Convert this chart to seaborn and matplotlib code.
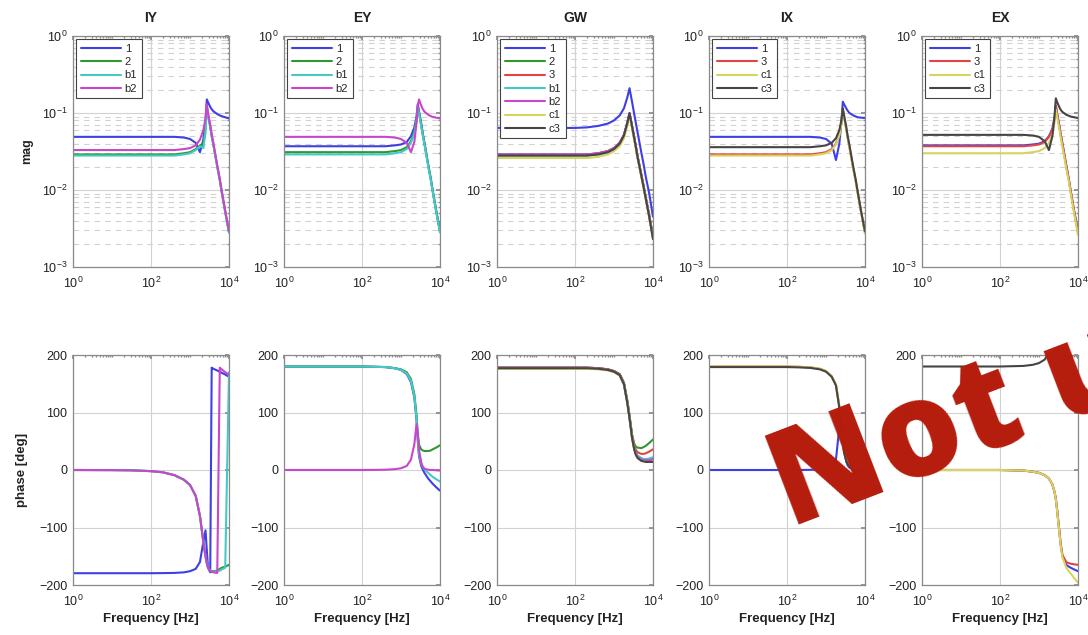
import numpy as np
import matplotlib
matplotlib.use("Agg")
import matplotlib.pyplot as plt
import seaborn as sns
from matplotlib.ticker import LogLocator, NullFormatter, FixedLocator

# ---------------- data ----------------
FREQ = [1, 10, 30, 100, 200, 400, 700, 1000, 1400, 1800, 2200, 2500, 2700, 2900,
        3300, 3600, 4000, 5000, 5800, 6500, 8000, 10000]

PANELS = ["IY", "EY", "GW", "IX", "EX"]

IY_LABELS = ["1", "2", "b1", "b2"]
EY_LABELS = ["1", "2", "b1", "b2"]
GW_LABELS = ["1", "2", "3", "b1", "b2", "c1", "c3"]
IX_LABELS = ["1", "3", "c1", "c3"]
EX_LABELS = ["1", "3", "c1", "c3"]

IY_MAG = {
    "1":  [0.049, 0.049, 0.049, 0.049, 0.049, 0.049, 0.048, 0.046, 0.041, 0.031, 0.045, 0.080, 0.150, 0.138, 0.120, 0.112, 0.105, 0.097, 0.093, 0.091, 0.088, 0.085],
    "2":  [0.029, 0.029, 0.029, 0.029, 0.029, 0.029, 0.030, 0.031, 0.034, 0.038, 0.040, 0.062, 0.120, 0.095, 0.066, 0.050, 0.038, 0.020, 0.0135, 0.0094, 0.0052, 0.0028],
    "b1": [0.028, 0.028, 0.028, 0.028, 0.028, 0.028, 0.029, 0.030, 0.033, 0.037, 0.035, 0.056, 0.120, 0.095, 0.066, 0.050, 0.038, 0.020, 0.0135, 0.0094, 0.0052, 0.0028],
    "b2": [0.033, 0.033, 0.033, 0.033, 0.033, 0.033, 0.034, 0.035, 0.038, 0.045, 0.060, 0.085, 0.130, 0.100, 0.070, 0.053, 0.040, 0.021, 0.014, 0.0098, 0.0054, 0.0029],
}
EY_MAG = {
    "1":  [0.037, 0.037, 0.037, 0.037, 0.037, 0.037, 0.038, 0.039, 0.042, 0.050, 0.065, 0.090, 0.130, 0.105, 0.073, 0.055, 0.041, 0.021, 0.014, 0.0098, 0.0054, 0.0029],
    "2":  [0.031, 0.031, 0.031, 0.031, 0.031, 0.031, 0.032, 0.033, 0.036, 0.043, 0.057, 0.082, 0.120, 0.100, 0.070, 0.053, 0.040, 0.021, 0.014, 0.0097, 0.0053, 0.0029],
    "b1": [0.029, 0.029, 0.029, 0.029, 0.029, 0.029, 0.030, 0.031, 0.034, 0.041, 0.054, 0.078, 0.115, 0.098, 0.068, 0.052, 0.039, 0.020, 0.0135, 0.0095, 0.0052, 0.0028],
    "b2": [0.049, 0.049, 0.049, 0.049, 0.049, 0.049, 0.048, 0.046, 0.041, 0.031, 0.042, 0.075, 0.125, 0.150, 0.125, 0.113, 0.104, 0.095, 0.091, 0.089, 0.087, 0.085],
}
GW_MAG = {
    "1":  [0.064, 0.064, 0.064, 0.064, 0.065, 0.068, 0.073, 0.080, 0.093, 0.115, 0.160, 0.210, 0.170, 0.140, 0.097, 0.076, 0.057, 0.031, 0.021, 0.015, 0.009, 0.0045],
    "2":  [0.029, 0.029, 0.029, 0.029, 0.029, 0.030, 0.032, 0.035, 0.041, 0.052, 0.075, 0.100, 0.082, 0.068, 0.048, 0.038, 0.028, 0.016, 0.011, 0.0081, 0.0047, 0.0025],
    "3":  [0.0285, 0.0285, 0.0285, 0.0285, 0.0287, 0.030, 0.032, 0.035, 0.041, 0.052, 0.074, 0.098, 0.080, 0.066, 0.047, 0.037, 0.027, 0.0155, 0.0107, 0.0079, 0.0046, 0.0024],
    "b1": [0.028, 0.028, 0.028, 0.028, 0.028, 0.029, 0.031, 0.034, 0.040, 0.051, 0.073, 0.097, 0.080, 0.066, 0.047, 0.037, 0.027, 0.0155, 0.0107, 0.0079, 0.0046, 0.0024],
    "b2": [0.029, 0.029, 0.029, 0.029, 0.029, 0.030, 0.032, 0.035, 0.041, 0.052, 0.075, 0.100, 0.082, 0.068, 0.048, 0.038, 0.028, 0.016, 0.011, 0.0081, 0.0047, 0.0025],
    "c1": [0.026, 0.026, 0.026, 0.026, 0.026, 0.027, 0.029, 0.032, 0.037, 0.047, 0.068, 0.092, 0.076, 0.063, 0.044, 0.035, 0.026, 0.015, 0.0103, 0.0076, 0.0044, 0.0023],
    "c3": [0.028, 0.028, 0.028, 0.028, 0.028, 0.029, 0.031, 0.034, 0.040, 0.051, 0.074, 0.099, 0.081, 0.067, 0.047, 0.037, 0.027, 0.0155, 0.0106, 0.0078, 0.0045, 0.0023],
}
IX_MAG = {
    "1":  [0.049, 0.049, 0.049, 0.049, 0.049, 0.049, 0.048, 0.046, 0.040, 0.0245, 0.040, 0.080, 0.140, 0.130, 0.115, 0.107, 0.100, 0.093, 0.090, 0.088, 0.087, 0.086],
    "3":  [0.029, 0.029, 0.029, 0.029, 0.029, 0.029, 0.030, 0.031, 0.034, 0.040, 0.052, 0.075, 0.110, 0.090, 0.063, 0.048, 0.036, 0.019, 0.013, 0.0092, 0.0051, 0.0028],
    "c1": [0.028, 0.028, 0.028, 0.028, 0.028, 0.028, 0.029, 0.030, 0.033, 0.039, 0.051, 0.074, 0.108, 0.089, 0.062, 0.047, 0.035, 0.0185, 0.0127, 0.009, 0.005, 0.0027],
    "c3": [0.036, 0.036, 0.036, 0.036, 0.036, 0.036, 0.037, 0.038, 0.041, 0.047, 0.060, 0.082, 0.115, 0.094, 0.066, 0.050, 0.038, 0.020, 0.0135, 0.0095, 0.0052, 0.0029],
}
EX_MAG = {
    "1":  [0.038, 0.038, 0.038, 0.038, 0.038, 0.038, 0.039, 0.040, 0.043, 0.050, 0.062, 0.085, 0.125, 0.100, 0.070, 0.053, 0.040, 0.021, 0.014, 0.0097, 0.0053, 0.0029],
    "3":  [0.037, 0.037, 0.037, 0.037, 0.037, 0.037, 0.038, 0.039, 0.042, 0.049, 0.061, 0.084, 0.123, 0.099, 0.069, 0.052, 0.039, 0.0205, 0.0138, 0.0096, 0.0052, 0.0028],
    "c1": [0.030, 0.030, 0.030, 0.030, 0.030, 0.030, 0.031, 0.032, 0.035, 0.041, 0.052, 0.075, 0.110, 0.090, 0.063, 0.048, 0.036, 0.019, 0.013, 0.009, 0.0049, 0.0026],
    "c3": [0.052, 0.052, 0.052, 0.052, 0.052, 0.052, 0.051, 0.049, 0.043, 0.033, 0.050, 0.090, 0.155, 0.140, 0.120, 0.110, 0.103, 0.095, 0.092, 0.090, 0.088, 0.086],
}

IY_PH = {
    "1":  [-179.5, -179.5, -179.5, -179.5, -179.3, -179, -178, -176, -172, -160, -125, -105, -140, -170, -178, 178, 176, 173, 171, 169, 166, 162],
    "2":  [0, -0.2, -0.5, -2, -4, -9, -17, -26, -45, -80, -125, -150, -162, -170, -175, -176, -176, -175, -172, -170, -168, -165],
    "b1": [0, -0.2, -0.5, -2, -4, -9, -17, -26, -45, -80, -125, -150, -162, -170, -175, -177, -177, -176, -175, -173, -170, 170],
    "b2": [0, -0.2, -0.5, -2, -4, -9, -17, -26, -45, -80, -125, -150, -162, -170, -175, -177, -178, -179, 178, 175, 170, 166],
}
EY_PH = {
    "1":  [180, 180, 180, 180, 179.5, 179, 177, 174, 167, 153, 126, 88, 50, 24, 7, 1, -5, -15, -20, -24, -30, -36],
    "2":  [180, 180, 180, 180, 179.5, 179, 177, 175, 170, 158, 132, 95, 62, 44, 36, 34, 33, 33, 34, 36, 39, 43],
    "b1": [180, 180, 180, 180, 179.5, 179, 177, 174, 168, 155, 128, 90, 52, 27, 11, 5, 1, -5, -9, -12, -16, -20],
    "b2": [0, 0, 0, 0, 0.2, 0.5, 1.5, 3, 7, 18, 45, 80, 62, 35, 13, 6, 2, 0.5, 0, 0, -0.5, -1],
}
GW_PH = {
    "1":  [178, 178, 178, 178, 178, 177, 175, 172, 166, 150, 118, 92, 75, 58, 38, 30, 25, 20, 19, 18, 19, 21],
    "2":  [178, 178, 178, 178, 178, 177, 175, 172, 167, 152, 121, 95, 78, 62, 46, 41, 39, 38, 40, 42, 47, 53],
    "3":  [178, 178, 178, 178, 178, 177, 175, 172, 166, 151, 119, 93, 76, 60, 42, 36, 31, 28, 28, 29, 32, 36],
    "b1": [177, 177, 177, 177, 177, 176, 174, 171, 165, 150, 118, 92, 75, 58, 38, 30, 25, 20, 19, 19, 20, 22],
    "b2": [177, 177, 177, 177, 177, 176, 174, 171, 165, 149, 117, 91, 74, 57, 37, 29, 23, 18, 17, 17, 17, 18],
    "c1": [176, 176, 176, 176, 176, 175, 173, 170, 164, 148, 116, 90, 72, 55, 36, 27, 21, 16, 15, 14, 14, 14],
    "c3": [177, 177, 177, 177, 177, 176, 174, 171, 165, 149, 116, 90, 73, 56, 36, 27, 21, 16, 15, 14, 14, 14],
}
IX_PH = {
    "1":  [0, 0, 0, 0, 0, 0.3, 1, 2, 5, 18, 75, 82, 55, 35, 15, 8, 4, 1, 0, 0, 0, 0],
    "3":  [180, 180, 180, 180, 179.5, 178.5, 176, 172, 163, 148, 110, 70, 48, 32, 18, 12, 8, 3, 1, 0, -1, -2],
    "c1": [180, 180, 180, 180, 179.5, 178.5, 176, 172, 163, 149, 112, 72, 50, 34, 20, 14, 10, 5, 3, 2, 1, 0],
    "c3": [179, 179, 179, 179, 178.5, 177.5, 175, 171, 162, 147, 108, 68, 46, 30, 16, 10, 6, 1, -1, -2, -3, -4],
}
EX_PH = {
    "1":  [0, 0, 0, 0, -0.5, -1, -3, -5, -9, -15, -25, -38, -50, -68, -105, -130, -150, -165, -168, -170, -173, -176],
    "3":  [0, 0, 0, 0, -0.5, -1, -3, -5, -9, -15, -25, -38, -50, -68, -104, -128, -148, -160, -162, -163, -164, -165],
    "c1": [0, 0, 0, 0, -0.5, -1, -3, -5, -9, -15, -25, -38, -51, -70, -107, -132, -152, -170, -176, -180, -188, -196],
    "c3": [180, 180, 180, 180, 180.5, 181, 183, 186, 192, 205, 240, 255, 235, 215, 198, 185, 177, 171, 168, 167, 166, 165],
}

MAG_TICKS = [1e-3, 1e-2, 1e-1, 1e0]
PHASE_TICKS = [-200, -100, 0, 100, 200]
FREQ_TICKS = [1, 100, 10000]

# ---------------- styling ----------------
COLORS = {"1": "#3f3fe6", "2": "#2e9a2e", "3": "#e04545", "b1": "#45c8c8",
          "b2": "#c845cc", "c1": "#d6d45c", "c3": "#454545"}

sns.set_theme(style="white")
plt.rcParams["font.family"] = ["Liberation Sans", "DejaVu Sans"]
plt.rcParams["axes.unicode_minus"] = True

fig = plt.figure(figsize=(10.88, 6.35), dpi=100)
W, H = 1088.0, 635.0
lefts = [73, 284, 497, 709, 922]
pw = 156

mag_data = [IY_MAG, EY_MAG, GW_MAG, IX_MAG, EX_MAG]
ph_data = [IY_PH, EY_PH, GW_PH, IX_PH, EX_PH]
labels = [IY_LABELS, EY_LABELS, GW_LABELS, IX_LABELS, EX_LABELS]

SPINE = "#8a8a8a"
GRID = "#d2d2d2"
TXT = "#222222"


def style_axes(ax):
    for s in ax.spines.values():
        s.set_color(SPINE)
        s.set_linewidth(0.9)
        s.set_visible(True)
    ax.tick_params(which="both", direction="in", top=True, right=True,
                   color=SPINE, labelsize=9, labelcolor=TXT)
    ax.tick_params(which="major", length=3)
    ax.tick_params(axis="x", which="major", pad=6)
    ax.tick_params(axis="y", which="major", pad=4)
    ax.tick_params(which="minor", length=1.5)
    ax.set_xscale("log")
    ax.set_xlim(1, 1e4)
    ax.xaxis.set_major_locator(FixedLocator(FREQ_TICKS))
    ax.xaxis.set_minor_locator(LogLocator(base=10, subs=np.arange(1, 10), numticks=30))
    ax.xaxis.set_minor_formatter(NullFormatter())
    ax.set_axisbelow(True)


for i, name in enumerate(PANELS):
    # magnitude
    ax = fig.add_axes([lefts[i] / W, 1 - 267 / H, pw / W, (267 - 36) / H])
    for lab in labels[i]:
        sns.lineplot(x=FREQ, y=mag_data[i][lab], ax=ax, color=COLORS[lab],
                     lw=1.5, label=lab, sort=False, estimator=None)
    ax.set_yscale("log")
    style_axes(ax)
    ax.set_ylim(1e-3, 1)
    ax.yaxis.set_major_locator(FixedLocator(MAG_TICKS))
    ax.yaxis.set_minor_locator(LogLocator(base=10, subs=np.arange(2, 10), numticks=30))
    ax.yaxis.set_minor_formatter(NullFormatter())
    ax.grid(True, which="major", axis="both", color=GRID, lw=0.8, ls="-")
    ax.yaxis.grid(True, which="minor", color=GRID, lw=0.8, ls=(0, (5, 4.5)))
    ax.set_title(name, fontsize=10, fontweight="bold", pad=10, color=TXT)
    ax.set_xlabel("")
    if i == 0:
        ax.set_ylabel("mag", fontsize=9, fontweight="bold", color=TXT, labelpad=6)
    else:
        ax.set_ylabel("")
    leg = ax.legend(loc="upper left", fontsize=8, frameon=True, fancybox=False,
                    edgecolor="#444444", framealpha=1, handlelength=3.6,
                    handletextpad=0.35, labelspacing=0.3, borderpad=0.4,
                    borderaxespad=0.3)
    leg.get_frame().set_linewidth(0.8)

    # phase
    ax2 = fig.add_axes([lefts[i] / W, 1 - 585 / H, pw / W, (585 - 355) / H])
    for lab in labels[i]:
        sns.lineplot(x=FREQ, y=ph_data[i][lab], ax=ax2, color=COLORS[lab],
                     lw=1.5, sort=False, estimator=None)
    style_axes(ax2)
    ax2.set_ylim(-200, 200)
    ax2.yaxis.set_major_locator(FixedLocator(PHASE_TICKS))
    ax2.grid(True, which="major", axis="both", color=GRID, lw=0.8, ls="-")
    ax2.set_xlabel("Frequency [Hz]", fontsize=9.5, fontweight="bold", color=TXT, labelpad=3)
    if i == 0:
        ax2.set_ylabel("phase [deg]", fontsize=9.5, fontweight="bold", color=TXT, labelpad=8)
    else:
        ax2.set_ylabel("")

# watermark stamp
fig.text(790 / W, 1 - 528 / H, "Not used", rotation=21, rotation_mode="anchor",
         ha="left", va="baseline", fontsize=96, fontweight="heavy",
         family=["Open Sans", "DejaVu Sans"], color="#b51c0c", zorder=20)

fig.savefig("out.png", dpi=100)
